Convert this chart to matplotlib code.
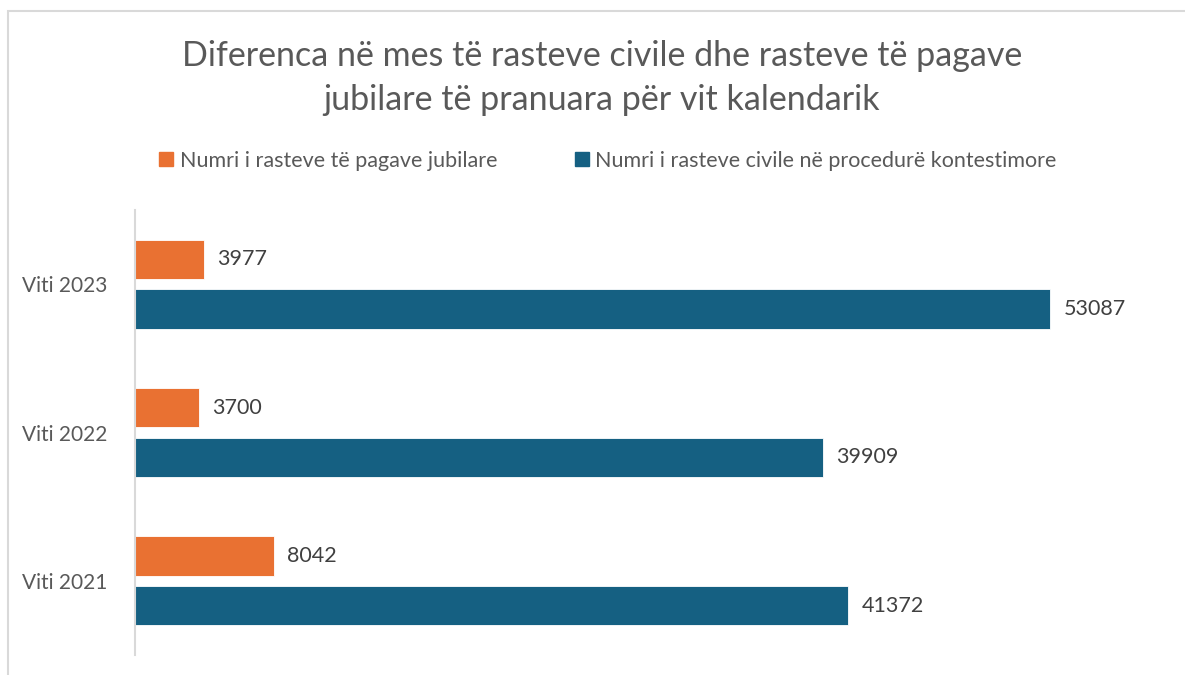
import matplotlib.pyplot as plt
import matplotlib.patches as mpatches
import numpy as np

plt.rcParams['font.family'] = ['Lato', 'DejaVu Sans']

years = ["Viti 2021", "Viti 2022", "Viti 2023"]
jubilare = [8042, 3700, 3977]
civile = [41372, 39909, 53087]
lbl_jub = "Numri i rasteve të pagave jubilare"
lbl_civ = "Numri i rasteve civile në procedurë kontestimore"
title = "Diferenca në mes të rasteve civile dhe rasteve të pagave\njubilare të pranuara për vit kalendarik"

c_orange = "#E97132"
c_blue = "#156082"
c_text = "#595959"

fig = plt.figure(figsize=(11.85, 6.75), dpi=100)
ax = fig.add_axes([0.1139, 0.0296, 0.858, 0.6593])

y = np.arange(len(years))
h = 0.265
off = 0.167
b1 = ax.barh(y + off, jubilare, height=h, color=c_orange, edgecolor="white", linewidth=0.6)
b2 = ax.barh(y - off, civile, height=h, color=c_blue, edgecolor="white", linewidth=0.6)

for bars in (b1, b2):
    for r in bars:
        w = r.get_width()
        ax.text(w + 800, r.get_y() + r.get_height() / 2, str(int(w)),
                va="center", ha="left", fontsize=15.5, color="#404040")

ax.set_xlim(0, 59000)
ax.set_ylim(-0.5, 2.5)
ax.set_yticks(y)
ax.set_yticklabels(years, fontsize=15, color=c_text)
ax.tick_params(axis="y", length=0, pad=20)
ax.set_xticks([])
for s in ["top", "right", "bottom"]:
    ax.spines[s].set_visible(False)
ax.spines["left"].set_color("#D9D9D9")
ax.spines["left"].set_linewidth(1.5)

fig.text(0.508, 0.884, title, ha="center", va="center", fontsize=24.5,
         color=c_text, linespacing=1.45)

handles = [mpatches.Patch(color=c_orange, label=lbl_jub),
           mpatches.Patch(color=c_blue, label=lbl_civ)]
fig.legend(handles=handles, loc="center", bbox_to_anchor=(0.513, 0.762), ncol=2,
           frameon=False, fontsize=15.5, labelcolor=c_text, handlelength=0.65,
           handleheight=0.65, handletextpad=0.3, columnspacing=3.6)

# outer chart border
fig.patches.append(mpatches.Rectangle((8 / 1185, -0.1), 1.2, 1.1 - 11 / 675,
                                      transform=fig.transFigure, fill=False,
                                      edgecolor="#D9D9D9", linewidth=1.5))

fig.savefig("out.png", dpi=100)
